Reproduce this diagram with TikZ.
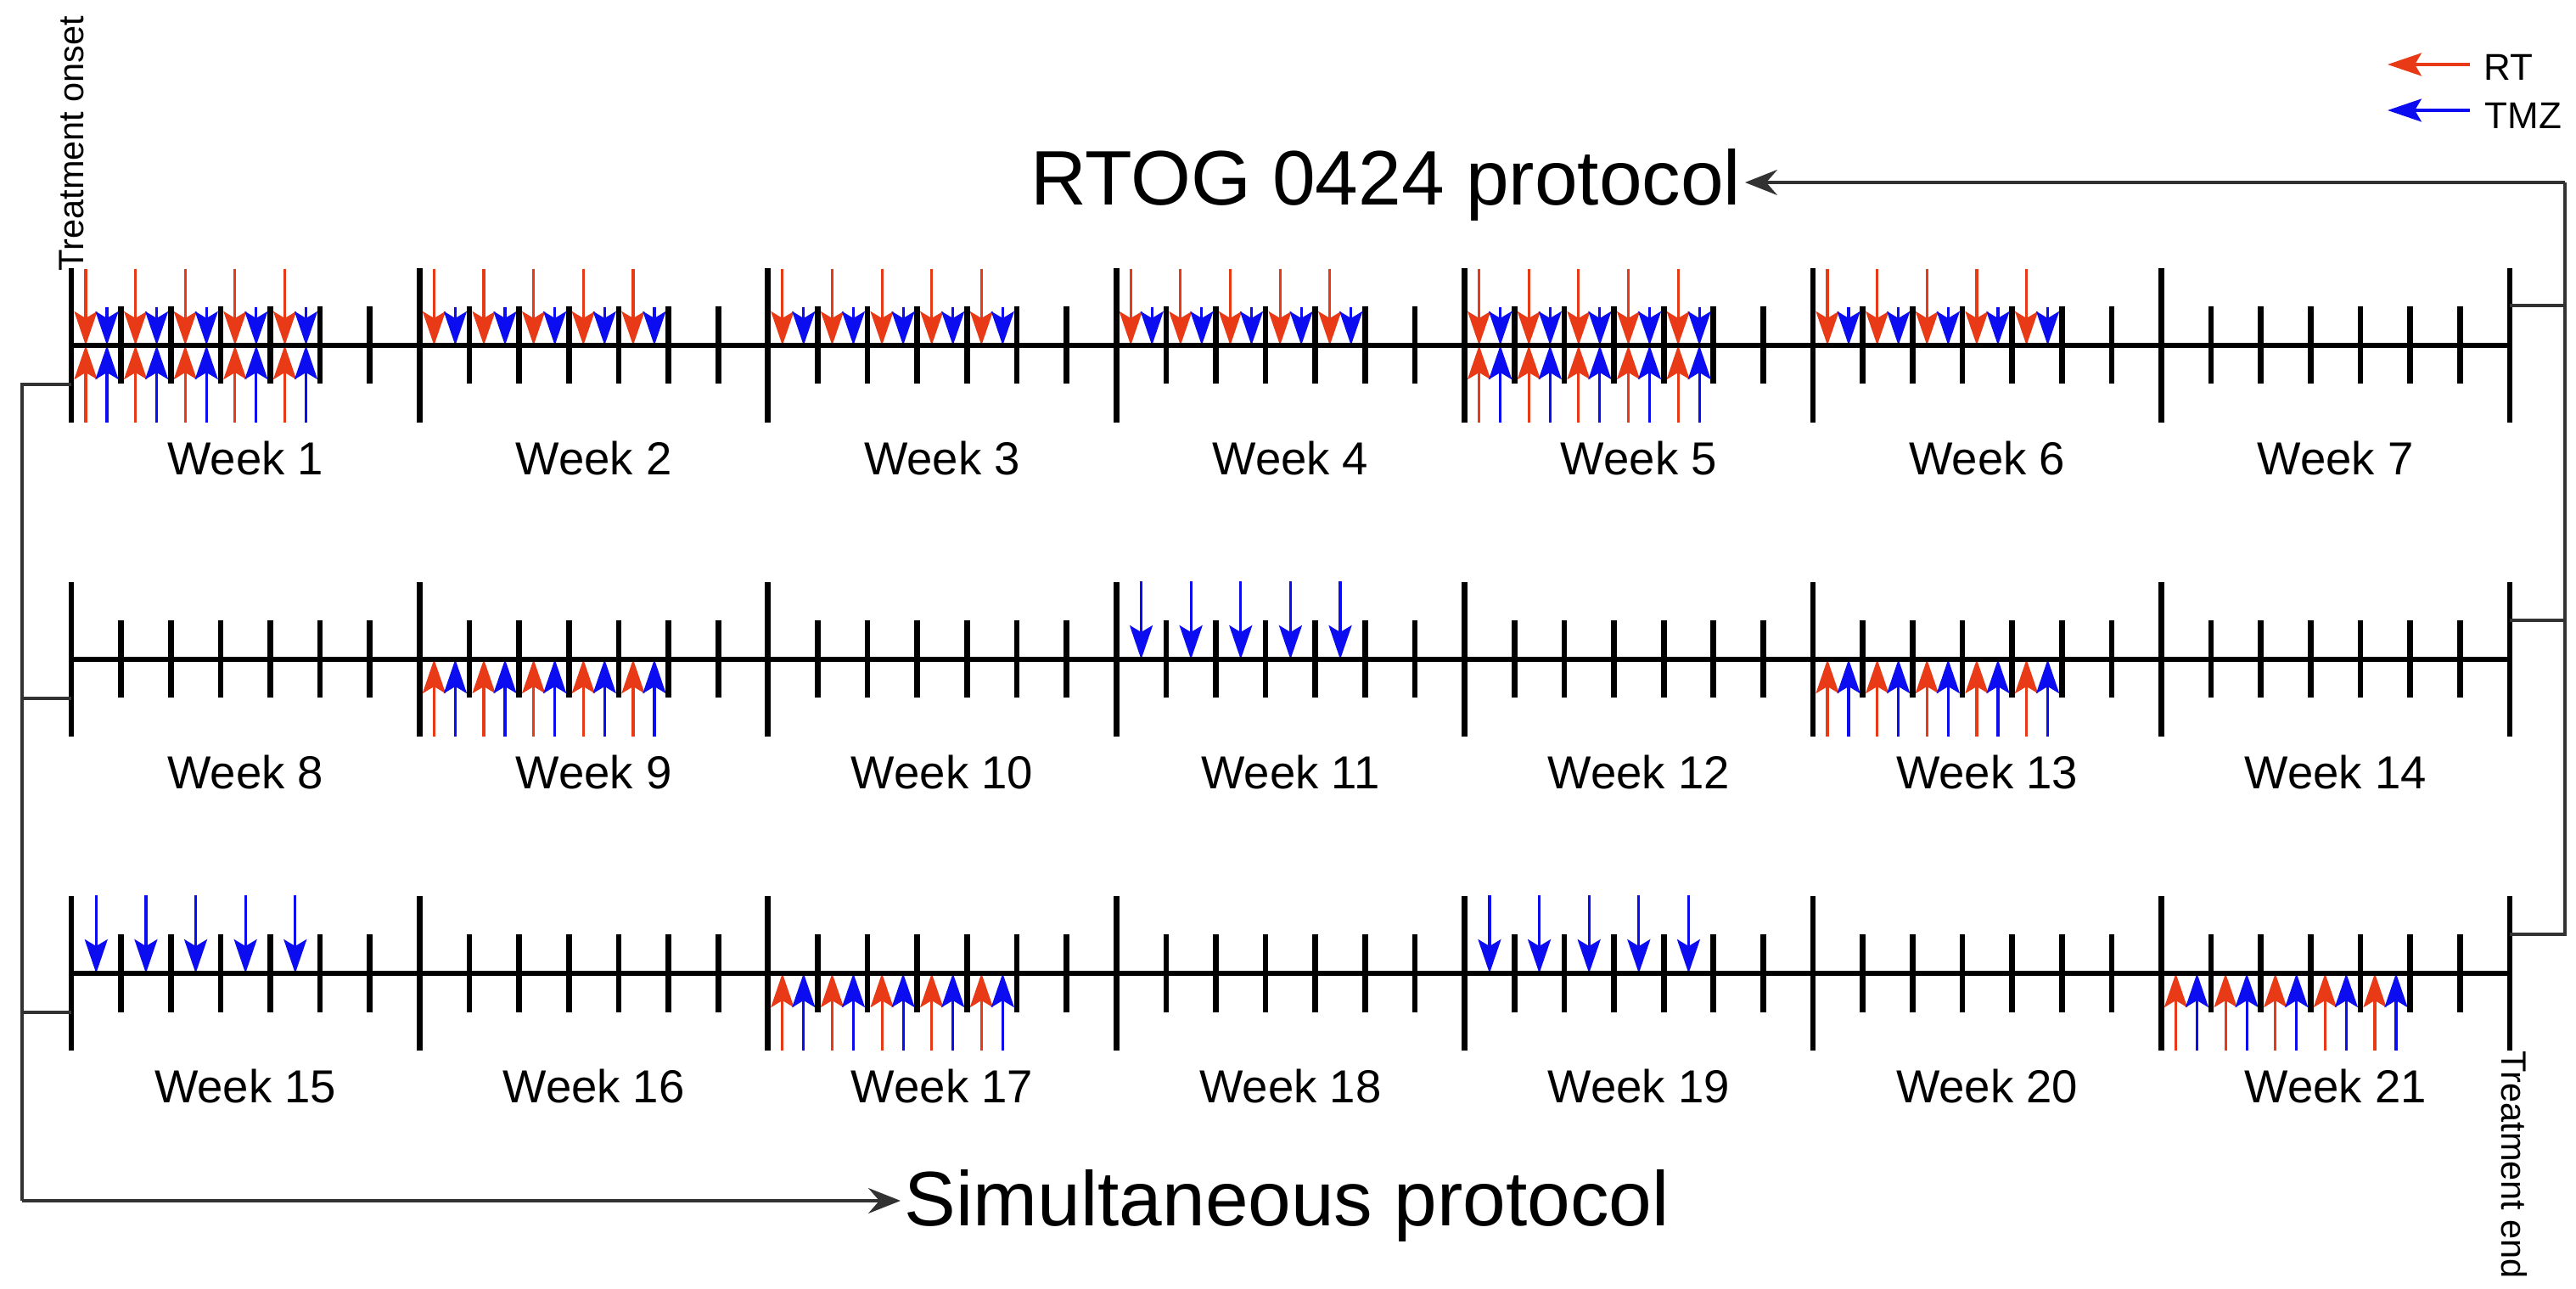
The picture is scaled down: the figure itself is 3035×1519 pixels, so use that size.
\documentclass[tikz,border=0pt]{standalone}
\usepackage{fontspec}
\setmainfont{Liberation Sans}
\usetikzlibrary{arrows.meta}
\definecolor{rtred}{RGB}{232,58,22}
\definecolor{tmzblue}{RGB}{12,12,240}
\definecolor{brk}{RGB}{50,50,50}
\tikzset{
  axisline/.style={line width=1.9pt, black},
  tallbar/.style={line width=1.9pt, black},
  daytick/.style={line width=1.9pt, black},
  headtip/.style={-{Stealth[length=0.4cm,width=0.27cm,inset=0.08cm]}},
  rtarrow/.style={rtred, line width=0.9pt, headtip},
  tmzarrow/.style={tmzblue, line width=0.9pt, headtip},
  bracketline/.style={brk, line width=0.95pt},
  protoarrow/.style={bracketline, -{Stealth[length=0.38cm,width=0.3cm,inset=0.13cm]}},
  weeklabel/.style={font=\fontsize{15.5}{18}\selectfont, inner sep=0pt},
  biglabel/.style={font=\fontsize{25.9}{30}\selectfont, inner sep=0.04cm},
  sidelabel/.style={font=\fontsize{11.8}{14}\selectfont, inner sep=0pt},
  legendlabel/.style={font=\fontsize{12.5}{15}\selectfont, inner sep=0pt},
  rtdown/.pic={
    \foreach \j in {0,...,4}{
      \draw[rtarrow] ({\j*58.63+17},-90) -- ({\j*58.63+17},0);
      \draw[tmzarrow] ({\j*58.63+42},-45) -- ({\j*58.63+42},0);
    }},
  rtup/.pic={
    \foreach \j in {0,...,4}{
      \draw[rtarrow] ({\j*58.63+17},91) -- ({\j*58.63+17},0);
      \draw[tmzarrow] ({\j*58.63+42},91) -- ({\j*58.63+42},0);
    }},
  tmzlong/.pic={
    \foreach \j in {0,...,4}{
      \draw[tmzarrow] ({\j*58.63+29.3},-92) -- ({\j*58.63+29.3},0);
    }},
}
\begin{document}
\begin{tikzpicture}[x=0.01cm,y=-0.01cm]
\useasboundingbox (0,0) rectangle (3035,1519);

% ---------- dosing arrows ----------
% row 1 (weeks 1-7)
\foreach \k in {0,...,5}{ \pic at ({84+\k*410.41},407) {rtdown}; }
\pic at (84,407) {rtup};
\pic at ({84+4*410.41},407) {rtup};
% row 2 (weeks 8-14)
\pic at ({84+1*410.41},777) {rtup};
\pic at ({84+3*410.41},777) {tmzlong};
\pic at ({84+5*410.41},777) {rtup};
% row 3 (weeks 15-21)
\pic at (84,1147) {tmzlong};
\pic at ({84+2*410.41},1147) {rtup};
\pic at ({84+4*410.41},1147) {tmzlong};
\pic at ({84+6*410.41},1147) {rtup};

% ---------- timelines ----------
\foreach \r in {0,1,2}{
  \pgfmathsetmacro{\yy}{407+370*\r}
  \draw[axisline] (84,\yy) -- (2957,\yy);
  \foreach \k in {0,...,7}{
    \draw[tallbar] ({84+\k*410.41},{\yy-91}) -- ({84+\k*410.41},{\yy+91});
  }
  \foreach \k in {0,...,6}{
    \foreach \j in {1,...,6}{
      \draw[daytick] ({84+\k*410.41+\j*58.63},{\yy-45.5}) -- ({84+\k*410.41+\j*58.63},{\yy+45.5});
    }
    \pgfmathtruncatemacro{\n}{7*\r+\k+1}
    \node[weeklabel] (week\n) at ({84+\k*410.41+205.2},{\yy+133}) {Week \n};
  }
}

% ---------- labels ----------
\node[biglabel, anchor=base east] (rtog) at (2056,242) {RTOG 0424 protocol};
\node[biglabel, anchor=base west] (sim) at (1061,1444) {Simultaneous protocol};
\node[sidelabel, rotate=90, anchor=base west] (onset) at (98,320) {Treatment onset};
\node[sidelabel, rotate=-90, anchor=base west] (tend) at (2947,1238) {Treatment end};

% ---------- legend ----------
\node[legendlabel, anchor=base west] (rtlab) at (2926,95) {RT};
\node[legendlabel, anchor=base west] (tmzlab) at (2927,152) {TMZ};
\coordinate (rtfrom) at (2910,76);
\coordinate (rtto) at (2813,76);
\coordinate (tmzfrom) at (2910,130);
\coordinate (tmzto) at (2813,130);
\draw[rtarrow] (rtfrom) -- (rtto);
\draw[tmzarrow] (tmzfrom) -- (tmzto);

% ---------- left bracket: simultaneous protocol ----------
\coordinate (lb0) at (84,453);
\coordinate (lb1) at (84,823);
\coordinate (lb2) at (84,1193);
\coordinate (lcorner) at (26,1415);
\draw[bracketline] (lb0) -- (lb0 -| lcorner) -- (lcorner);
\draw[bracketline] (lb1) -- (lb1 -| lcorner);
\draw[bracketline] (lb2) -- (lb2 -| lcorner);
\draw[protoarrow] (lcorner) -- (lcorner -| sim.west);

% ---------- right bracket: RTOG 0424 protocol ----------
\coordinate (rb0) at (2957,360);
\coordinate (rb1) at (2957,731);
\coordinate (rb2) at (2957,1101);
\coordinate (rcorner) at (3022,215);
\draw[bracketline] (rb2) -- (rb2 -| rcorner) -- (rcorner);
\draw[bracketline] (rb0) -- (rb0 -| rcorner);
\draw[bracketline] (rb1) -- (rb1 -| rcorner);
\draw[protoarrow] (rcorner) -- (rcorner -| rtog.east);
\end{tikzpicture}
\end{document}
